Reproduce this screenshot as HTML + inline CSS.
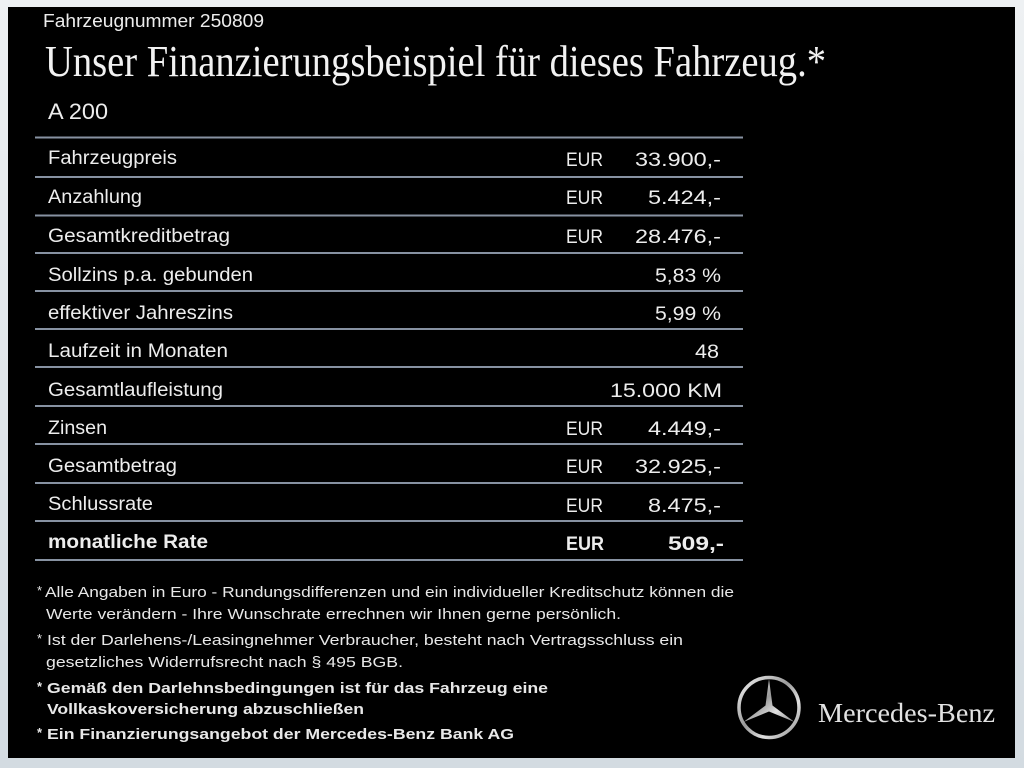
<!DOCTYPE html>
<html>
<head>
<meta charset="utf-8">
<style>
html,body{margin:0;padding:0;background:#e3e8ec;}
svg{display:block;}
</style>
</head>
<body>
<svg width="1024" height="768" viewBox="0 0 1024 768" xmlns="http://www.w3.org/2000/svg">
<defs>
<linearGradient id="bg" x1="0" y1="0" x2="0" y2="1">
<stop offset="0" stop-color="#eef1f3"/>
<stop offset="1" stop-color="#d3dbe1"/>
</linearGradient>
<linearGradient id="silver" x1="0" y1="0" x2="1" y2="1">
<stop offset="0" stop-color="#f4f4f4"/>
<stop offset="0.45" stop-color="#9a9a9a"/>
<stop offset="0.7" stop-color="#e0e0e0"/>
<stop offset="1" stop-color="#8a8a8a"/>
</linearGradient>
</defs>
<rect x="0" y="0" width="1024" height="768" fill="url(#bg)"/>
<rect x="8" y="7" width="1007" height="751" fill="#000"/>

<g font-family="'Liberation Sans', sans-serif" fill="#ededed" font-size="18">
<text x="43" y="27" textLength="221" lengthAdjust="spacingAndGlyphs">Fahrzeugnummer 250809</text>
</g>
<text x="45" y="76" font-family="'Liberation Serif', serif" font-size="44" fill="#f2f2f2" textLength="781" lengthAdjust="spacingAndGlyphs">Unser Finanzierungsbeispiel für dieses Fahrzeug.*</text>
<text x="48" y="119" font-family="'Liberation Sans', sans-serif" font-size="22" fill="#ededed" textLength="60" lengthAdjust="spacingAndGlyphs">A 200</text>

<g stroke="#8792a2" stroke-width="2">
<line x1="35" y1="137.5" x2="743" y2="137.5"/>
<line x1="35" y1="177" x2="743" y2="177"/>
<line x1="35" y1="215.5" x2="743" y2="215.5"/>
<line x1="35" y1="253" x2="743" y2="253"/>
<line x1="35" y1="291" x2="743" y2="291"/>
<line x1="35" y1="329" x2="743" y2="329"/>
<line x1="35" y1="367" x2="743" y2="367"/>
<line x1="35" y1="406" x2="743" y2="406"/>
<line x1="35" y1="444" x2="743" y2="444"/>
<line x1="35" y1="483" x2="743" y2="483"/>
<line x1="35" y1="521" x2="743" y2="521"/>
<line x1="35" y1="560" x2="743" y2="560"/>
</g>

<g font-family="'Liberation Sans', sans-serif" font-size="19" fill="#ededed">
<text x="48" y="164" textLength="129" lengthAdjust="spacingAndGlyphs">Fahrzeugpreis</text>
<text x="48" y="203" textLength="94" lengthAdjust="spacingAndGlyphs">Anzahlung</text>
<text x="48" y="242" textLength="182" lengthAdjust="spacingAndGlyphs">Gesamtkreditbetrag</text>
<text x="48" y="281" textLength="205" lengthAdjust="spacingAndGlyphs">Sollzins p.a. gebunden</text>
<text x="48" y="319" textLength="185" lengthAdjust="spacingAndGlyphs">effektiver Jahreszins</text>
<text x="48" y="357" textLength="180" lengthAdjust="spacingAndGlyphs">Laufzeit in Monaten</text>
<text x="48" y="396" textLength="175" lengthAdjust="spacingAndGlyphs">Gesamtlaufleistung</text>
<text x="48" y="434" textLength="59" lengthAdjust="spacingAndGlyphs">Zinsen</text>
<text x="48" y="472" textLength="129" lengthAdjust="spacingAndGlyphs">Gesamtbetrag</text>
<text x="48" y="510" textLength="105" lengthAdjust="spacingAndGlyphs">Schlussrate</text>
<text x="48" y="548" textLength="160" lengthAdjust="spacingAndGlyphs" font-weight="bold">monatliche Rate</text>

<text x="566" y="166" textLength="37" lengthAdjust="spacingAndGlyphs">EUR</text>
<text x="635" y="166" textLength="86" lengthAdjust="spacingAndGlyphs">33.900,-</text>
<text x="566" y="204" textLength="37" lengthAdjust="spacingAndGlyphs">EUR</text>
<text x="648" y="204" textLength="73" lengthAdjust="spacingAndGlyphs">5.424,-</text>
<text x="566" y="243" textLength="37" lengthAdjust="spacingAndGlyphs">EUR</text>
<text x="635" y="243" textLength="86" lengthAdjust="spacingAndGlyphs">28.476,-</text>
<text x="655" y="282" textLength="66" lengthAdjust="spacingAndGlyphs">5,83 %</text>
<text x="655" y="320" textLength="66" lengthAdjust="spacingAndGlyphs">5,99 %</text>
<text x="695" y="358" textLength="24" lengthAdjust="spacingAndGlyphs">48</text>
<text x="610" y="397" textLength="112" lengthAdjust="spacingAndGlyphs">15.000 KM</text>
<text x="566" y="435" textLength="37" lengthAdjust="spacingAndGlyphs">EUR</text>
<text x="648" y="435" textLength="73" lengthAdjust="spacingAndGlyphs">4.449,-</text>
<text x="566" y="473" textLength="37" lengthAdjust="spacingAndGlyphs">EUR</text>
<text x="635" y="473" textLength="86" lengthAdjust="spacingAndGlyphs">32.925,-</text>
<text x="566" y="512" textLength="37" lengthAdjust="spacingAndGlyphs">EUR</text>
<text x="648" y="512" textLength="73" lengthAdjust="spacingAndGlyphs">8.475,-</text>
<text x="566" y="550" textLength="38" lengthAdjust="spacingAndGlyphs" font-weight="bold">EUR</text>
<text x="668" y="550" textLength="56" lengthAdjust="spacingAndGlyphs" font-weight="bold">509,-</text>
</g>

<g font-family="'Liberation Sans', sans-serif" font-size="15" fill="#e8e8e8">
<text x="37" y="595" font-size="13">*</text>
<text x="45" y="597" textLength="689" lengthAdjust="spacingAndGlyphs">Alle Angaben in Euro - Rundungsdifferenzen und ein individueller Kreditschutz können die</text>
<text x="46" y="619" textLength="575" lengthAdjust="spacingAndGlyphs">Werte verändern - Ihre Wunschrate errechnen wir Ihnen gerne persönlich.</text>
<text x="37" y="643" font-size="13">*</text>
<text x="47" y="645" textLength="636" lengthAdjust="spacingAndGlyphs">Ist der Darlehens-/Leasingnehmer Verbraucher, besteht nach Vertragsschluss ein</text>
<text x="46" y="667" textLength="357" lengthAdjust="spacingAndGlyphs">gesetzliches  Widerrufsrecht nach § 495 BGB.</text>
<g font-weight="bold">
<text x="37" y="691" font-size="13">*</text>
<text x="47" y="693" textLength="501" lengthAdjust="spacingAndGlyphs">Gemäß den Darlehnsbedingungen ist für das Fahrzeug eine</text>
<text x="47" y="714" textLength="317" lengthAdjust="spacingAndGlyphs">Vollkaskoversicherung abzuschließen</text>
<text x="37" y="737" font-size="13">*</text>
<text x="47" y="739" textLength="467" lengthAdjust="spacingAndGlyphs">Ein Finanzierungsangebot der Mercedes-Benz Bank AG</text>
</g>
</g>

<!-- Mercedes star -->
<g>
<circle cx="769" cy="707.5" r="30" fill="none" stroke="url(#silver)" stroke-width="3.5"/>
<polygon points="769,679 772.5,705.5 794.5,722 769,711.5 743.5,722 765.5,705.5" fill="url(#silver)"/>
</g>
<text x="818" y="722" font-family="'Liberation Serif', serif" font-size="27" fill="#e2e2e2" textLength="177" lengthAdjust="spacingAndGlyphs">Mercedes-Benz</text>
</svg>
</body>
</html>
